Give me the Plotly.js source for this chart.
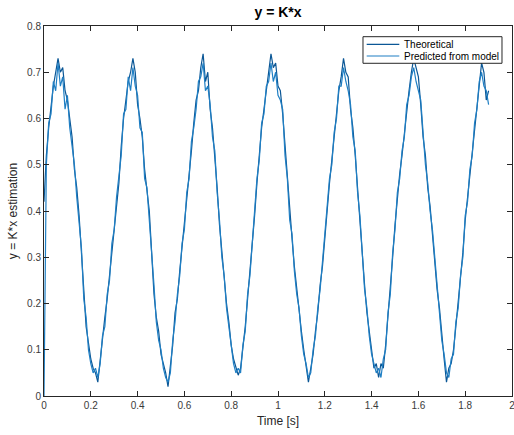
<!DOCTYPE html>
<html>
<head>
<meta charset="utf-8">
<script src="https://cdn.plot.ly/plotly-3.0.1.min.js"></script>
<style>html,body{margin:0;padding:0;background:#fff;}#chart{width:514px;height:435px;}</style>
</head>
<body>
<div id="chart"></div>
<script>
// Sampling of both signals (seconds)
const sampleStart = 0;
const sampleStep = 0.01;

// Series names
const seriesNames = ['Theoretical', 'Predicted from model'];
const seriesColors = ['#0b5796', '#1f7fc4'];

// y = K*x, theoretical (t = 0 .. 1.90 s)
const theoretical = [
  0.42,0.52,0.58,0.63,0.67,0.70,0.73,0.70,0.71,0.66,
  0.64,0.60,0.56,0.49,0.45,0.39,0.30,0.23,0.15,0.11,
  0.08,0.06,0.05,0.03,0.08,0.12,0.17,0.21,0.26,0.31,
  0.37,0.42,0.46,0.54,0.60,0.64,0.68,0.70,0.73,0.70,
  0.63,0.60,0.56,0.49,0.44,0.40,0.31,0.22,0.17,0.14,
  0.09,0.07,0.05,0.02,0.07,0.11,0.18,0.21,0.27,0.32,
  0.37,0.42,0.48,0.53,0.59,0.64,0.66,0.71,0.74,0.68,
  0.70,0.62,0.58,0.52,0.45,0.37,0.31,0.25,0.20,0.16,
  0.11,0.08,0.06,0.045,0.06,0.10,0.15,0.21,0.27,0.32,
  0.39,0.46,0.52,0.58,0.62,0.66,0.69,0.74,0.71,0.72,
  0.67,0.66,0.61,0.54,0.46,0.39,0.34,0.28,0.23,0.18,
  0.14,0.10,0.06,0.03,0.06,0.09,0.14,0.18,0.24,0.28,
  0.34,0.41,0.46,0.51,0.56,0.61,0.66,0.69,0.73,0.70,
  0.69,0.62,0.58,0.52,0.45,0.38,0.29,0.24,0.18,0.14,
  0.10,0.06,0.07,0.04,0.07,0.06,0.11,0.17,0.23,0.30,
  0.37,0.43,0.48,0.52,0.57,0.62,0.66,0.70,0.73,0.71,
  0.69,0.63,0.56,0.52,0.45,0.41,0.35,0.30,0.23,0.19,
  0.13,0.08,0.03,0.06,0.07,0.10,0.15,0.20,0.25,0.31,
  0.38,0.43,0.48,0.53,0.58,0.63,0.67,0.72,0.70,0.64,
  0.66
];

// y = K*x, predicted from model (t = 0 .. 1.90 s)
const predicted = [
  0.00,0.50,0.59,0.61,0.68,0.66,0.72,0.67,0.69,0.62,
  0.65,0.58,0.54,0.50,0.43,0.38,0.32,0.21,0.17,0.10,
  0.07,0.05,0.06,0.04,0.07,0.13,0.15,0.22,0.25,0.33,
  0.36,0.43,0.48,0.52,0.61,0.62,0.69,0.66,0.71,0.67,
  0.65,0.58,0.57,0.47,0.45,0.38,0.33,0.24,0.16,0.12,
  0.10,0.06,0.04,0.03,0.05,0.12,0.16,0.22,0.26,0.33,
  0.36,0.44,0.47,0.55,0.58,0.62,0.68,0.69,0.72,0.66,
  0.67,0.63,0.56,0.53,0.44,0.38,0.30,0.26,0.19,0.15,
  0.12,0.07,0.05,0.06,0.05,0.11,0.14,0.22,0.26,0.33,
  0.38,0.47,0.51,0.59,0.61,0.67,0.68,0.72,0.68,0.70,
  0.65,0.64,0.62,0.52,0.47,0.38,0.35,0.27,0.22,0.19,
  0.13,0.09,0.07,0.04,0.05,0.10,0.13,0.19,0.23,0.29,
  0.35,0.40,0.47,0.50,0.57,0.60,0.67,0.67,0.71,0.68,
  0.66,0.63,0.56,0.53,0.44,0.39,0.30,0.23,0.19,0.13,
  0.09,0.07,0.05,0.06,0.04,0.08,0.10,0.18,0.22,0.31,
  0.36,0.44,0.47,0.53,0.56,0.63,0.65,0.69,0.71,0.68,
  0.66,0.64,0.57,0.50,0.46,0.40,0.36,0.29,0.24,0.18,
  0.12,0.09,0.05,0.04,0.08,0.09,0.16,0.19,0.26,0.30,
  0.39,0.42,0.49,0.52,0.59,0.62,0.68,0.70,0.67,0.66,
  0.63
];

const traces = [
  {
    type: 'scatter', mode: 'lines', name: seriesNames[0], showlegend: false,
    x0: sampleStart, dx: sampleStep, y: theoretical,
    line: {color: seriesColors[0], width: 1.2}
  },
  {
    type: 'scatter', mode: 'lines', name: seriesNames[1], showlegend: false,
    x0: sampleStart, dx: sampleStep, y: predicted,
    line: {color: seriesColors[1], width: 1.2}
  }
];

// Compact MATLAB-style legend box (paper coordinates)
const legendBox = {x0: 0.6816, x1: 0.9786, y0: 0.8992, y1: 0.9711};
const legendRows = [0.9505, 0.9189];
const legendLineX = [0.6895, 0.7592];
const legendTextX = 0.7643;

const shapes = [
  {type: 'rect', xref: 'paper', yref: 'paper', x0: legendBox.x0, x1: legendBox.x1,
   y0: legendBox.y0, y1: legendBox.y1, line: {color: '#262626', width: 1}, fillcolor: '#ffffff', layer: 'above'}
];
const annotations = [];
seriesNames.forEach((name, i) => {
  shapes.push({type: 'line', xref: 'paper', yref: 'paper', x0: legendLineX[0], x1: legendLineX[1],
    y0: legendRows[i], y1: legendRows[i], line: {color: seriesColors[i], width: 1.2}, layer: 'above'});
  annotations.push({xref: 'paper', yref: 'paper', x: legendTextX, y: legendRows[i],
    xanchor: 'left', yanchor: 'middle', showarrow: false, text: name,
    font: {size: 10, color: '#000000'}});
});

const axisCommon = {
  showline: true, linecolor: '#262626', linewidth: 1, mirror: 'ticks',
  ticks: 'inside', ticklen: 5, tickcolor: '#262626', tickwidth: 1,
  showgrid: false, zeroline: false, fixedrange: true,
  ticklabeloverflow: 'allow',
  tickfont: {size: 10, color: '#3a3a3a'}
};

const layout = {
  width: 514, height: 435,
  margin: {l: 44, r: 2, t: 26, b: 39, pad: 0},
  paper_bgcolor: '#ffffff', plot_bgcolor: '#ffffff',
  font: {family: '"Liberation Sans", Arial, Helvetica, sans-serif', size: 10, color: '#262626'},
  title: {
    text: '<b>y = K*x</b>', font: {size: 14, color: '#000000'},
    xref: 'paper', x: 0.5, xanchor: 'center',
    yref: 'container', y: 0.972, yanchor: 'middle'
  },
  xaxis: Object.assign({}, axisCommon, {
    range: [0, 2], tick0: 0, dtick: 0.2,
    title: {text: 'Time [s]', font: {size: 12, color: '#262626'}, standoff: 6}
  }),
  yaxis: Object.assign({}, axisCommon, {
    range: [0, 0.8], tick0: 0, dtick: 0.1,
    title: {text: 'y = K*x estimation', font: {size: 12, color: '#262626'}, standoff: 6}
  }),
  showlegend: false,
  shapes: shapes,
  annotations: annotations
};

Plotly.newPlot('chart', traces, layout, {displayModeBar: false, staticPlot: true});
</script>
</body>
</html>
